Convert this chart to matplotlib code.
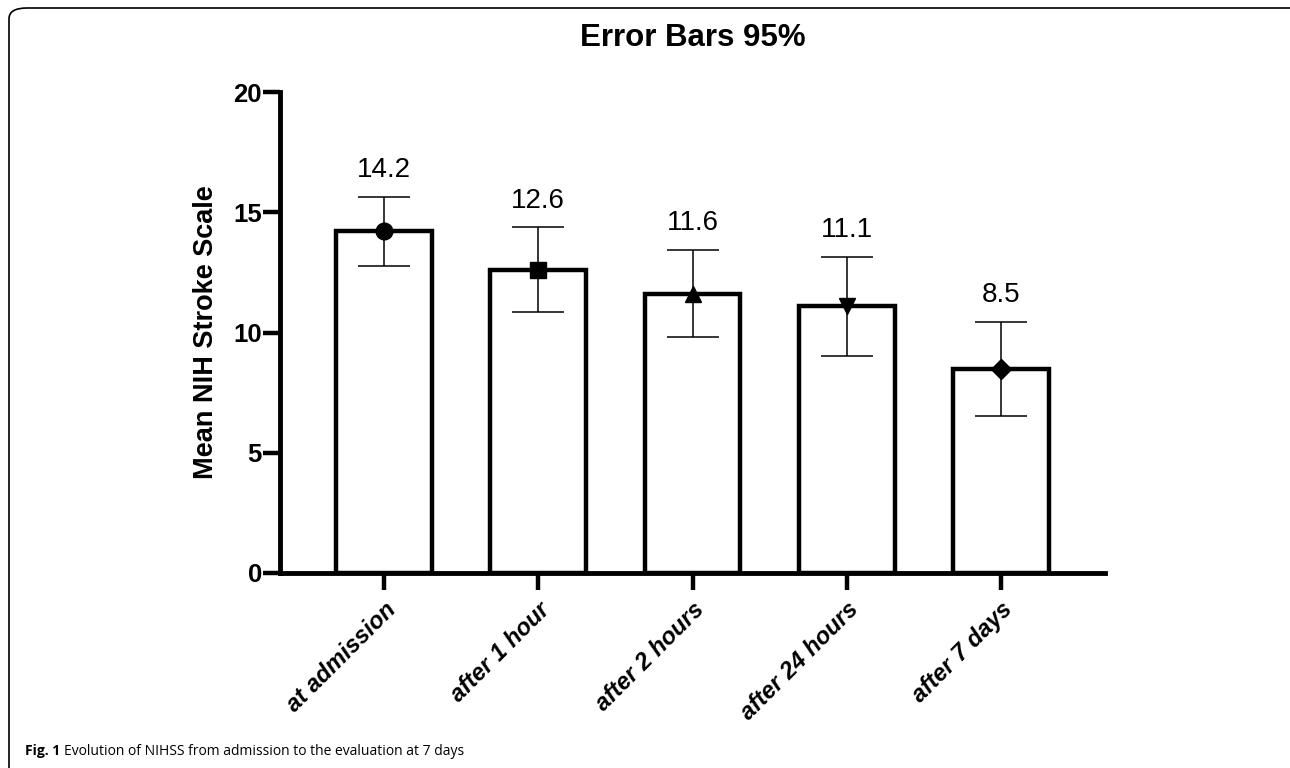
import numpy as np
import matplotlib
matplotlib.use("Agg")
from matplotlib import pyplot as plt
from matplotlib.patches import FancyBboxPatch
from matplotlib.transforms import offset_copy

# data
categories = ['at admission', 'after 1 hour', 'after 2 hours', 'after 24 hours', 'after 7 days']
means = [14.2, 12.6, 11.6, 11.1, 8.5]
ci_low = [12.77, 10.84, 9.80, 9.04, 6.54]
ci_high = [15.64, 14.37, 13.43, 13.15, 10.45]
markers = ['o', 's', '^', 'v', 'D']
marker_sizes = [12, 12, 12, 12, 10]

plt.rcParams['font.family'] = ['Liberation Sans', 'DejaVu Sans']

fig = plt.figure(figsize=(12.9, 7.68), dpi=100)
ax = fig.add_axes([280/1290, 1 - 573/768, (1105 - 280)/1290, (573 - 92)/768])

x = np.arange(len(categories))
means = np.array(means)
err = np.array([means - np.array(ci_low), np.array(ci_high) - means])

ax.bar(x, means, width=0.62, facecolor='white', edgecolor='black', linewidth=3.2, zorder=2)
ax.errorbar(x, means, yerr=err, fmt='none', ecolor='black', elinewidth=1.1,
            capsize=18.5, capthick=1.1, zorder=3)
for xi, m, mk, ms in zip(x, means, markers, marker_sizes):
    ax.plot(xi, m, marker=mk, markersize=ms, color='black', zorder=4, clip_on=False)

for xi, m, hi in zip(x, means, ci_high):
    ax.annotate('%.1f' % m, (xi, hi), xytext=(0, 10), textcoords='offset points',
                ha='center', va='bottom', fontsize=20)

ax.set_xlim(-0.675, 4.675)
ax.set_ylim(0, 20)
ax.set_yticks([0, 5, 10, 15, 20])
ax.set_xticks(x)
ax.set_xticklabels(categories, rotation=45, ha='right', rotation_mode='anchor',
                   fontsize=17, fontweight='bold', fontstyle='italic')
for lbl in ax.get_yticklabels():
    lbl.set_fontweight('bold')
    lbl.set_fontsize(18.5)

ax.tick_params(axis='y', direction='out', length=12, width=3.2, pad=1)
ax.tick_params(axis='x', direction='out', length=12, width=3.2, pad=6)
for s in ['top', 'right']:
    ax.spines[s].set_visible(False)
for s in ['left', 'bottom']:
    ax.spines[s].set_linewidth(3.5)

ax.set_ylabel('Mean NIH Stroke Scale', fontsize=19.5, fontweight='bold', labelpad=10)
ax.set_title('Error Bars 95%', fontsize=22.5, fontweight='bold', pad=33)

# caption and panel frame
cap_font = ['Open Sans', 'DejaVu Sans']
t1 = fig.text(25/1290, 1 - 755/768, 'Fig. 1 ', fontsize=10, fontweight='bold',
              family=cap_font, va='baseline')
fig.canvas.draw()
w = t1.get_window_extent().width
fig.text(25/1290, 1 - 755/768, 'Evolution of NIHSS from admission to the evaluation at 7 days',
         fontsize=10, family=cap_font, va='baseline',
         transform=offset_copy(fig.transFigure, fig=fig, x=w * 72 / fig.dpi, units='points'))

frame = FancyBboxPatch((9/1290, -0.02), 1.2, 1 - 8/768 + 0.02,
                       boxstyle='round,pad=0,rounding_size=0.014',
                       transform=fig.transFigure, facecolor='none',
                       edgecolor='black', linewidth=1.2, clip_on=False)
fig.patches.append(frame)

fig.savefig('out.png', dpi=100)
